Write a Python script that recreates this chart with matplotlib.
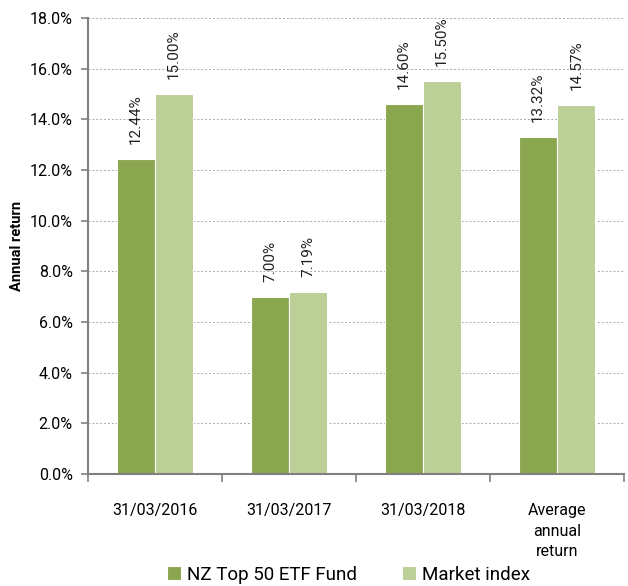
import matplotlib.pyplot as plt
import numpy as np
from matplotlib.ticker import FuncFormatter

plt.rcParams['font.family'] = ['Roboto', 'DejaVu Sans']

categories = ['31/03/2016', '31/03/2017', '31/03/2018', 'Average\nannual\nreturn']
fund = [12.44, 7.00, 14.60, 13.32]          # NZ Top 50 ETF Fund
market = [15.00, 7.19, 15.50, 14.57]        # Market index

dark = '#8aa64f'
light = '#bbcf97'

fig = plt.figure(figsize=(6.28, 5.86), dpi=100)
ax = fig.add_axes([0.140, 0.191, 0.854, 0.778])

x = np.arange(len(categories))
w = 0.285
b1 = ax.bar(x - w/2, fund, w, color=dark, edgecolor='white', linewidth=0.8, label='NZ Top 50 ETF Fund')
b2 = ax.bar(x + w/2, market, w, color=light, edgecolor='white', linewidth=0.8, label='Market index')

for bars, vals in ((b1, fund), (b2, market)):
    for r, v in zip(bars, vals):
        ax.text(r.get_x() + r.get_width()/2, v + 0.6, '%.2f%%' % v, rotation=90,
                ha='center', va='bottom', fontsize=11, color='#222222')

ax.set_xlim(-0.5, 3.5)
ax.set_ylim(0, 18)
ax.set_yticks(np.arange(0, 18.1, 2))
ax.yaxis.set_major_formatter(FuncFormatter(lambda v, p: '%.1f%%' % v))
ax.grid(axis='y', linestyle=(0, (2, 2)), color='#aaaaaa', linewidth=0.7)
ax.set_axisbelow(True)

# category labels in the middle, tick marks on group borders
ax.set_xticks(x)
ax.set_xticklabels(categories, fontsize=11.5, linespacing=1.45)
ax.tick_params(axis='x', which='major', length=0, pad=21)
ax.set_xticks(np.arange(-0.5, 4, 1), minor=True)
ax.tick_params(axis='x', which='minor', length=6, color='#808080', width=1.2)
ax.tick_params(axis='y', length=5, color='#808080', width=1.2, labelsize=11.5, pad=6)

for s in ('top', 'right'):
    ax.spines[s].set_visible(False)
for s in ('left', 'bottom'):
    ax.spines[s].set_color('#808080')
    ax.spines[s].set_linewidth(1.5)

ax.set_ylabel('Annual return', fontsize=10.5, fontweight='bold', labelpad=4)

fig.legend(loc='lower center', bbox_to_anchor=(0.555, -0.025), ncol=2, frameon=False,
           fontsize=13.5, handlelength=0.75, handleheight=0.75, handletextpad=0.3,
           columnspacing=2.4)

fig.savefig('out.png', dpi=100)
